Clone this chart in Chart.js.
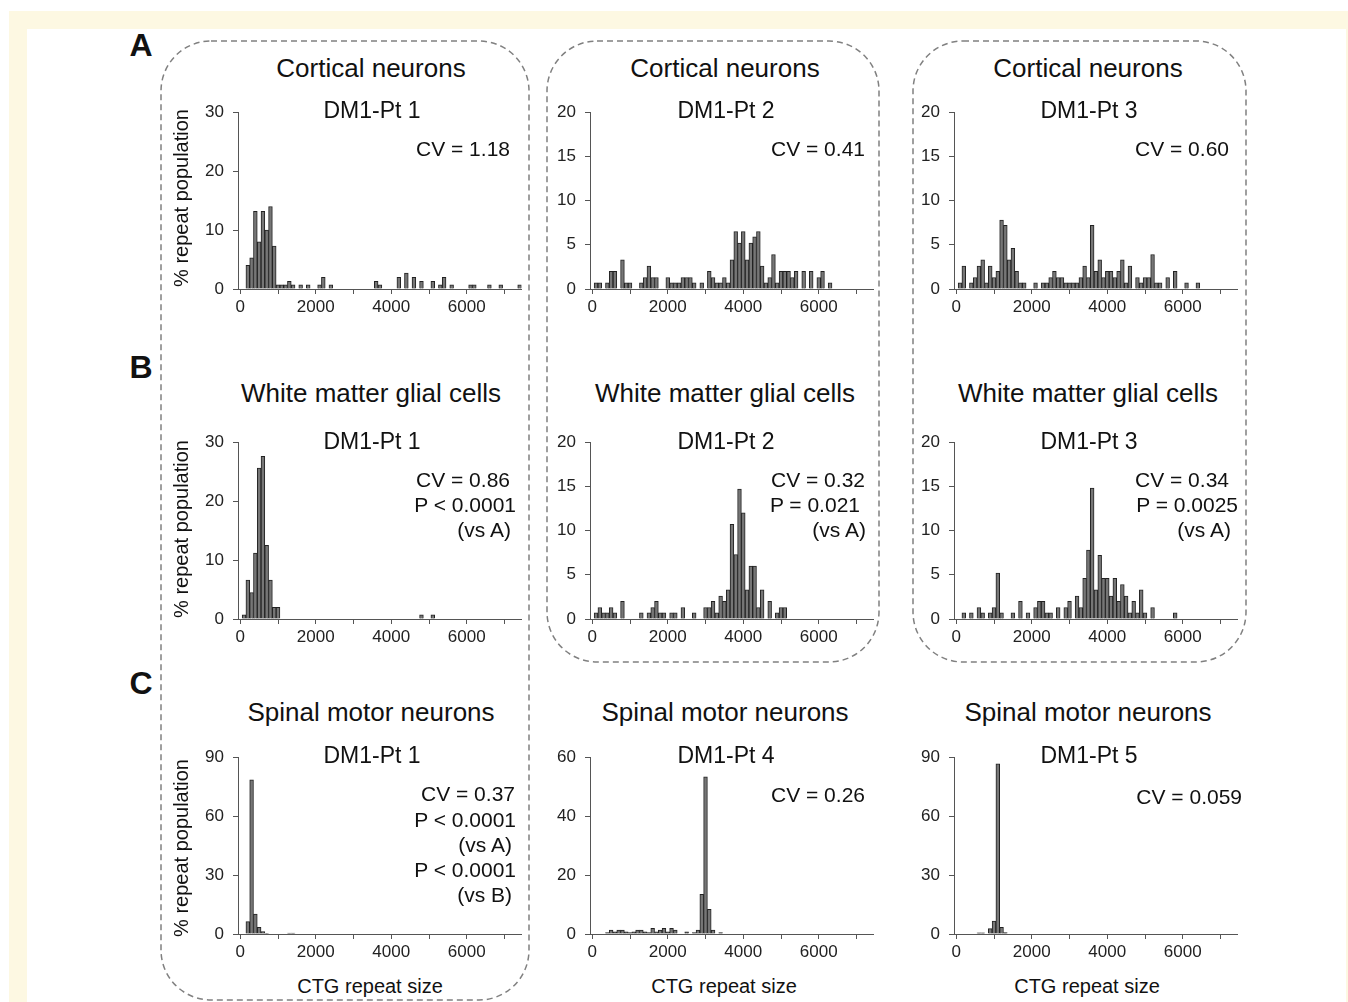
<!DOCTYPE html>
<html>
<head>
<meta charset="utf-8">
<script src="https://cdn.jsdelivr.net/npm/chart.js@4.4.1/dist/chart.umd.min.js"></script>
<style>
  html, body { margin: 0; padding: 0; background: #fff; }
  body { width: 1348px; height: 1002px; position: relative; overflow: hidden; font-family: "Liberation Sans", Arial, sans-serif; color: #111; }
  #cream { position: absolute; left: 9px; top: 11px; width: 1339px; height: 1000px; background: #fdf8e2; }
  #sheet { position: absolute; left: 27px; top: 29px; width: 1319px; height: 980px; background: #fff; }
  canvas { position: absolute; }
  .txt { position: absolute; white-space: nowrap; line-height: 1; }
  svg { position: absolute; left: 0; top: 0; }
</style>
</head>
<body>
<div id="cream"></div>
<div id="sheet"></div>
<svg width="1348" height="1002">
  <g fill="none" stroke="#808080" stroke-width="1.5" stroke-dasharray="6 4">
    <rect x="161" y="41" width="368" height="959" rx="50" ry="50"/>
    <rect x="547" y="41" width="332" height="621" rx="50" ry="50"/>
    <rect x="913" y="41" width="333" height="621" rx="50" ry="50"/>
  </g>
</svg>
<script>
// % repeat population per CTG repeat-size bin (bin width 100)
// Row A: cortical neurons
const binsA1 = [200,300,400,500,600,700,800,900,1000,1100,1200,1300,1400,1600,1800,2100,2200,2400,3600,3700,4200,4400,4600,4800,5100,5300,5400,5600,6100,6200,6600,6900,7400];
const pctA1  = [4.0,5.3,13.2,8.0,13.2,10.0,14.0,7.3,0.7,0.7,0.7,1.3,0.7,0.7,0.7,0.7,2.0,0.7,1.3,0.7,2.0,2.7,2.0,1.3,1.3,0.7,2.0,0.7,0.7,0.7,0.7,0.7,0.7];

const binsA2 = [100,200,400,500,600,800,900,1000,1300,1400,1500,1600,1700,2000,2100,2200,2300,2400,2500,2600,2700,2900,3100,3200,3300,3400,3500,3600,3700,3800,3900,4000,4100,4200,4300,4400,4500,4600,4700,4800,4900,5000,5100,5200,5300,5400,5600,5800,6000,6100,6300];
const pctA2  = [0.7,0.7,0.7,2.0,2.0,3.3,0.7,0.7,0.7,1.3,2.6,1.3,1.3,1.3,0.7,0.7,0.7,1.3,1.3,1.3,0.7,0.7,2.0,1.3,0.7,0.7,1.3,0.7,3.3,6.5,5.2,6.5,3.3,5.2,5.9,6.5,2.6,0.7,1.3,3.9,0.7,2.0,2.0,2.0,1.3,2.0,2.0,2.0,1.3,2.0,0.7];

const binsA3 = [100,200,400,500,600,700,800,900,1000,1100,1200,1300,1400,1500,1600,1700,1800,2100,2300,2400,2500,2600,2700,2800,2900,3000,3100,3200,3300,3400,3500,3600,3700,3800,3900,4000,4100,4200,4300,4400,4500,4600,4800,4900,5000,5100,5200,5300,5400,5600,5800,6100,6400];
const pctA3  = [0.7,2.6,0.7,1.3,2.6,3.3,0.7,2.6,1.3,2.0,7.8,7.2,3.3,4.6,2.0,0.7,0.7,0.7,0.7,0.7,1.3,2.0,1.3,1.3,0.7,0.7,0.7,0.7,1.3,2.6,1.3,7.2,2.0,3.3,1.3,2.0,2.0,1.3,2.0,3.3,0.7,2.6,1.3,0.7,1.3,1.3,3.9,0.7,0.7,1.3,2.0,0.7,0.7];

// Row B: white matter glial cells
const binsB1 = [100,200,300,400,500,600,700,800,900,1000,4800,5100];
const pctB1  = [0.7,6.6,4.5,11.2,25.6,27.6,12.5,6.6,2.0,2.0,0.7,0.7];

const binsB2 = [100,200,300,400,500,600,800,1300,1500,1600,1700,1800,1900,2100,2200,2400,2700,3000,3100,3200,3300,3400,3500,3600,3700,3800,3900,4000,4100,4200,4300,4400,4500,4700,4900,5000,5100];
const pctB2  = [0.7,1.3,0.7,0.7,1.3,0.7,2.0,0.7,0.7,1.3,2.0,0.7,0.7,0.7,0.7,1.3,0.7,1.3,1.3,2.0,0.7,2.6,2.0,3.3,10.7,7.3,14.7,12.0,3.3,6.0,6.0,1.3,3.3,2.0,0.7,1.3,1.3];

const binsB3 = [200,400,600,700,900,1000,1100,1200,1500,1700,1900,2100,2200,2300,2400,2500,2700,2900,3000,3200,3300,3400,3500,3600,3700,3800,3900,4000,4100,4200,4300,4400,4500,4600,4700,4800,4900,5000,5200,5800];
const pctB3  = [0.7,0.7,1.3,0.7,0.7,1.3,5.2,0.7,0.7,2.0,0.7,1.3,2.0,2.0,0.7,0.7,1.3,1.3,2.0,2.6,1.3,4.6,7.8,14.8,3.3,7.2,4.6,4.6,2.6,4.6,2.0,3.9,2.6,0.7,2.0,0.7,3.3,0.7,1.3,0.7];

// Row C: spinal motor neurons
const binsC1 = [200,300,400,500,600,700,1300,1400];
const pctC1  = [6.3,78.5,10.1,3.4,1.2,0.3,0.5,0.5];

const binsC2 = [400,500,600,700,800,900,1000,1100,1200,1300,1400,1500,1600,1700,1800,1900,2000,2100,2200,2500,2700,2800,2900,3000,3100,3200,3400];
const pctC2  = [0.5,1.3,0.7,1.3,1.3,0.7,0.5,0.7,1.3,1.3,0.7,0.5,1.9,0.7,1.3,1.9,0.7,1.9,1.3,0.7,0.5,1.3,13.5,53.3,8.4,1.3,0.5];

const binsC3 = [600,700,900,1000,1100,1200,1300];
const pctC3  = [0.6,0.6,2.7,6.6,86.6,3.4,0.7];

// axis ranges / ticks
const xTicks = [0, 1000, 2000, 3000, 4000, 5000, 6000, 7000];
const yMaxA = [30, 20, 20], yStepA = [10, 5, 5];
const yMaxB = [30, 20, 20], yStepB = [10, 5, 5];
const yMaxC = [90, 60, 90], yStepC = [30, 20, 30];

const colTitles = ['Cortical neurons', 'White matter glial cells', 'Spinal motor neurons'];
const patients = [['DM1-Pt 1','DM1-Pt 2','DM1-Pt 3'], ['DM1-Pt 1','DM1-Pt 2','DM1-Pt 3'], ['DM1-Pt 1','DM1-Pt 4','DM1-Pt 5']];

// layout (px)
const colLeft = [188, 540, 904];   // canvas left, plot starts 50px in
const rowTop = [93, 423, 738];     // canvas top, plot starts 18px in
const colCenter = [371, 725, 1088];

Chart.defaults.font.family = '"Liberation Sans", Arial, sans-serif';
Chart.defaults.color = '#222';

const panels = [
  [binsA1, pctA1, yMaxA[0], yStepA[0]], [binsA2, pctA2, yMaxA[1], yStepA[1]], [binsA3, pctA3, yMaxA[2], yStepA[2]],
  [binsB1, pctB1, yMaxB[0], yStepB[0]], [binsB2, pctB2, yMaxB[1], yStepB[1]], [binsB3, pctB3, yMaxB[2], yStepB[2]],
  [binsC1, pctC1, yMaxC[0], yStepC[0]], [binsC2, pctC2, yMaxC[1], yStepC[1]], [binsC3, pctC3, yMaxC[2], yStepC[2]]
];

panels.forEach((p, i) => {
  const [bins, pct, ymax, ystep] = p;
  const row = Math.floor(i / 3), col = i % 3;
  const cv = document.createElement('canvas');
  cv.width = 346; cv.height = 226;
  cv.style.left = colLeft[col] + 'px';
  cv.style.top = rowTop[row] + 'px';
  document.body.appendChild(cv);

  const yTicks = [];
  for (let v = 0; v <= ymax; v += ystep) yTicks.push(v);

  new Chart(cv, {
    type: 'bar',
    data: {
      datasets: [{
        data: bins.map((b, k) => ({ x: b, y: pct[k] })),
        backgroundColor: '#767676',
        borderColor: '#222',
        borderWidth: 1,
        categoryPercentage: 1,
        barPercentage: 1
      }]
    },
    options: {
      responsive: false,
      animation: false,
      layout: { autoPadding: false, padding: { top: 12, right: 12.5, left: 0, bottom: 0 } },
      plugins: { legend: { display: false }, tooltip: { enabled: false } },
      scales: {
        x: {
          type: 'linear',
          offset: false,
          min: -60, max: 7450,
          afterFit: s => { s.height = 30; },
          afterBuildTicks: s => { s.ticks = xTicks.map(v => ({ value: v })); },
          ticks: {
            autoSkip: false, maxRotation: 0, minRotation: 0, padding: 3,
            font: { size: 17 },
            callback: v => (v % 2000 === 0 ? String(v) : '')
          },
          grid: { offset: false, drawOnChartArea: false, drawTicks: true, tickLength: 5, color: '#555' },
          border: { color: '#555', width: 1 }
        },
        y: {
          min: 0, max: ymax,
          afterFit: s => { s.width = 50; },
          afterBuildTicks: s => { s.ticks = yTicks.map(v => ({ value: v })); },
          ticks: { padding: 9, font: { size: 17 } },
          grid: { drawOnChartArea: false, drawTicks: true, tickLength: 5, color: '#555' },
          border: { color: '#555', width: 1 }
        }
      }
    }
  });
});

// text
function addText(t, x, y, size, align, extra) {
  const d = document.createElement('div');
  d.className = 'txt';
  d.textContent = t;
  d.style.left = x + 'px';
  d.style.top = y + 'px';
  d.style.fontSize = size + 'px';
  const tx = align === 'right' ? '-100%' : '-50%';
  d.style.transform = 'translate(' + tx + ',-50%)' + (extra || '');
  document.body.appendChild(d);
  return d;
}

const titleY = [68, 393, 712];
const ptY = [110, 441, 755];
for (let r = 0; r < 3; r++) {
  for (let c = 0; c < 3; c++) {
    addText(colTitles[r], colCenter[c], titleY[r], 26, 'center');
    addText(patients[r][c], colCenter[c] + 1, ptY[r], 23, 'center');
  }
}

const statLines = [
  ['CV = 1.18', 510, 148], ['CV = 0.41', 865, 148], ['CV = 0.60', 1229, 148],
  ['CV = 0.86', 510, 479], ['P < 0.0001', 516, 504], ['(vs A)', 511, 529],
  ['CV = 0.32', 865, 479], ['P = 0.021', 860, 504], ['(vs A)', 866, 529],
  ['CV = 0.34', 1229, 479], ['P = 0.0025', 1238, 504], ['(vs A)', 1231, 529],
  ['CV = 0.37', 515, 793], ['P < 0.0001', 516, 819], ['(vs A)', 512, 844], ['P < 0.0001', 516, 869], ['(vs B)', 512, 894],
  ['CV = 0.26', 865, 794], ['CV = 0.059', 1242, 796]
];
statLines.forEach(s => addText(s[0], s[1], s[2], 21, 'right'));

[198, 529, 848].forEach(y => addText('% repeat population', 181, y, 20, 'center', ' rotate(-90deg)'));
colCenter.forEach(x => addText('CTG repeat size', x - 1, 986, 20, 'center'));

[['A', 45], ['B', 367], ['C', 683]].forEach(l => {
  const d = addText(l[0], 141, l[1], 32, 'center');
  d.style.fontWeight = 'bold';
});
</script>
</body>
</html>
